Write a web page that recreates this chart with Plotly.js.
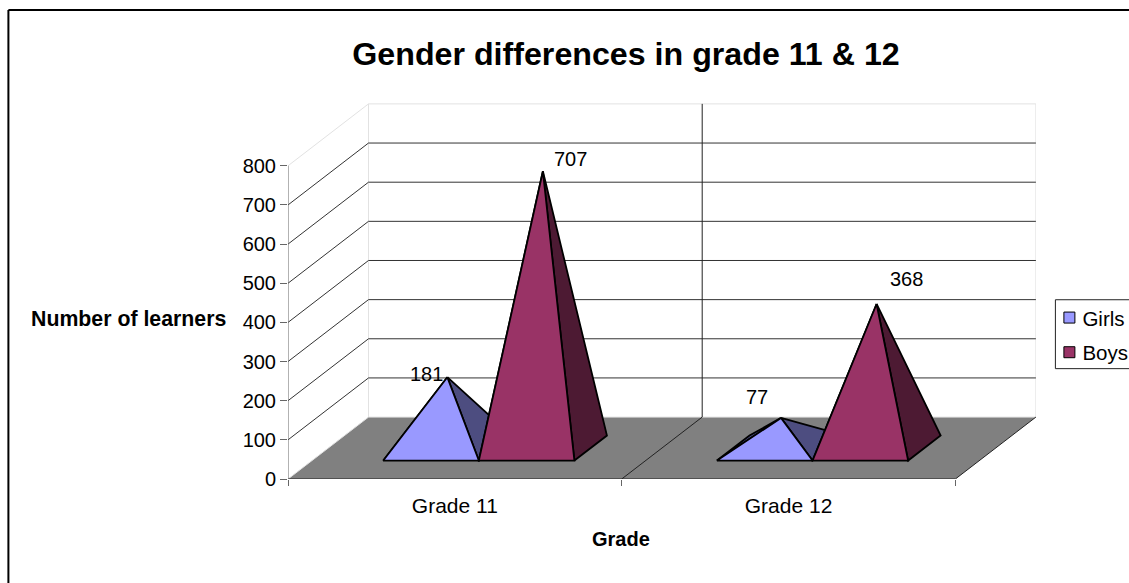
<!DOCTYPE html>
<html>
<head>
<meta charset="utf-8">
<script src="https://cdn.plot.ly/plotly-3.0.1.min.js"></script>
<style>html,body{margin:0;padding:0;background:#fff;overflow:hidden}#chart{width:1129px;height:583px}</style>
</head>
<body>
<div id="chart"></div>
<script>
const categories = ['Grade 11', 'Grade 12'];
const girls = [181, 77];
const boys = [707, 368];
const seriesNames = ['Girls', 'Boys'];
const yTicks = [0, 100, 200, 300, 400, 500, 600, 700, 800];
const gridValues = [100, 200, 300, 400, 500, 600, 700];

// chart frame (pixels)
const W = 1129, H = 583, L = 287.6, R = 93.4, T = 100, B = 103.5;
const pxPerCat = 333.7, pxPerVal = 0.392;
// oblique depth vector of the pseudo-3D box, in axis units
const DX = 80.5 / pxPerCat, DY = 62 / pxPerVal;
const YMAX = (H - B - T) / pxPerVal, XMAX = (W - L - R) / pxPerCat, NC = categories.length;
const barW = 0.2864, d0 = 0.298, d1 = 0.702;
const px = p => (p - L) / (W - L - R);
const py = p => (H - B - p) / (H - B - T);

const proj = (u, v, d) => [u + d * DX, v + d * DY];
const poly = pts => ({ x: pts.map(p => p[0]), y: pts.map(p => p[1]) });

const traces = [];
const addLine = (pts, color, width, extra) => traces.push(Object.assign({
  ...poly(pts), type: 'scatter', mode: 'lines', line: { color, width },
  hoverinfo: 'skip', showlegend: false, cliponaxis: false
}, extra || {}));
const addFace = (pts, fill, lineW) => traces.push({
  ...poly(pts.concat([pts[0]])), type: 'scatter', mode: 'lines', fill: 'toself', fillcolor: fill,
  line: { color: '#000', width: lineW }, hoverinfo: 'skip', showlegend: false, cliponaxis: false
});

// floor
traces.push({ ...poly([proj(0,0,0), proj(NC,0,0), proj(NC,0,1), proj(0,0,1), proj(0,0,0)]),
  type: 'scatter', mode: 'lines', fill: 'toself', fillcolor: '#808080',
  line: { color: 'rgba(0,0,0,0)', width: 0 }, hoverinfo: 'skip', showlegend: false });
// walls' light edges
addLine([proj(0,0,0), proj(0,0,1), proj(0,800,1), proj(NC,800,1), proj(NC,0,1), proj(0,0,1)], '#e2e2e2', 1);
addLine([proj(0,800,0), proj(0,800,1)], '#e2e2e2', 1);
// grid lines on side and back wall
gridValues.forEach(v => addLine([proj(0,v,0), proj(0,v,1), proj(NC,v,1)], '#333', 1));
// category divider
for (let i = 1; i < NC; i++) addLine([proj(i,0,0), proj(i,0,1), proj(i,800,1)], '#222', 1);
// floor's outer edges
addLine([proj(0,0,0), proj(NC,0,0), proj(NC,0,1)], '#222', 1);
// value axis line
addLine([[0,0],[0,800]], '#666', 1);

const styles = [
  { vals: girls, offset: -barW, front: '#9999FF', side: '#4D4D80' },
  { vals: boys, offset: 0, front: '#993366', side: '#4D1A33' }
];
const apexes = [];
categories.forEach((c, i) => {
  styles.forEach(s => {
    const u0 = i + 0.5 + s.offset, u1 = u0 + barW, v = s.vals[i];
    const apex = proj((u0 + u1) / 2, v, 0.5);
    apexes.push(apex);
    addFace([apex, proj(u0,0,d0), proj(u0,0,d1)], s.side, 1.8);
    addFace([apex, proj(u1,0,d0), proj(u1,0,d1)], s.side, 1.8);
    addFace([apex, proj(u0,0,d0), proj(u1,0,d0)], s.front, 1.8);
  });
});

// legend entries
seriesNames.forEach((n, k) => traces.push({
  x: [null], y: [null], type: 'scatter', mode: 'markers', name: n, legendgroup: n,
  marker: { symbol: 'square', size: 11, color: styles[k].front, line: { color: '#000', width: 1 } },
  hoverinfo: 'skip', showlegend: true
}));

const FONT = 'Arial, "Liberation Sans", sans-serif';
const labelText = [girls[0], boys[0], girls[1], boys[1]];
const labelShift = [[-21, 3], [28, 12], [-24, 21], [30, 25]];
const annotations = labelText.map((t, i) => ({
  x: apexes[i][0], y: apexes[i][1], xref: 'x', yref: 'y', text: String(t), showarrow: false,
  xshift: labelShift[i][0], yshift: labelShift[i][1], font: { family: FONT, size: 20, color: '#000' }
}));
annotations.push({ xref: 'paper', yref: 'paper', x: px(128.5), y: py(319), xanchor: 'center', yanchor: 'middle',
  text: '<b>Number of learners</b>', showarrow: false, font: { family: FONT, size: 21.3, color: '#000' } });
annotations.push({ xref: 'paper', yref: 'paper', x: px(621), y: py(540), xanchor: 'center', yanchor: 'middle',
  text: '<b>Grade</b>', showarrow: false, font: { family: FONT, size: 20, color: '#000' } });

const shapes = [
  { type: 'line', xref: 'paper', yref: 'paper', x0: px(8), x1: px(8), y0: py(10), y1: py(590), line: { color: '#000', width: 2 } },
  { type: 'line', xref: 'paper', yref: 'paper', x0: px(8), x1: px(1135), y0: py(10), y1: py(10), line: { color: '#000', width: 2 } },
  { type: 'rect', xref: 'paper', yref: 'paper', x0: px(1055), x1: px(1140), y0: py(369), y1: py(300), line: { color: '#222', width: 1 } }
];

const layout = {
  width: W, height: H, autosize: false, paper_bgcolor: '#fff', plot_bgcolor: 'rgba(0,0,0,0)',
  margin: { l: L, r: R, t: T, b: B, pad: 0, autoexpand: false },
  font: { family: FONT, size: 20, color: '#000' },
  title: { text: '<b>Gender differences in grade 11 &amp; 12</b>', x: 626 / W, xref: 'container', xanchor: 'center',
    y: 1 - 54 / H, yref: 'container', yanchor: 'middle', font: { family: FONT, size: 32.2, color: '#000' } },
  xaxis: { range: [0, XMAX], showgrid: false, zeroline: false, showline: false,
    tickmode: 'array', tickvals: categories.map((c, i) => i + 0.5), ticktext: categories, ticks: '',
    tickfont: { family: FONT, size: 21 }, ticklabelstandoff: 12,
    minor: { tickmode: 'array', tickvals: [0, 1, 2], ticks: 'outside', ticklen: 6, tickcolor: '#666', tickwidth: 1, showgrid: false } },
  yaxis: { range: [0, YMAX], showgrid: false, zeroline: false, showline: false,
    tickmode: 'array', tickvals: yTicks, ticks: 'outside', ticklen: 7, tickcolor: '#666', tickwidth: 1,
    tickfont: { family: FONT, size: 20 } },
  legend: { x: px(1042), y: py(298), xanchor: 'left', yanchor: 'top', bgcolor: 'rgba(0,0,0,0)', borderwidth: 0,
    font: { family: FONT, size: 20.5, color: '#000' }, tracegroupgap: 5 },
  showlegend: true, hovermode: false, annotations, shapes
};
Plotly.newPlot('chart', traces, layout, { staticPlot: true, displayModeBar: false }).then(() => {
  // the reference keeps its legend swatches closer to the labels than Plotly's default gap
  document.querySelectorAll('.legend .legendsymbols').forEach(g => g.setAttribute('transform', 'translate(7,0)'));
});
</script>
</body>
</html>
